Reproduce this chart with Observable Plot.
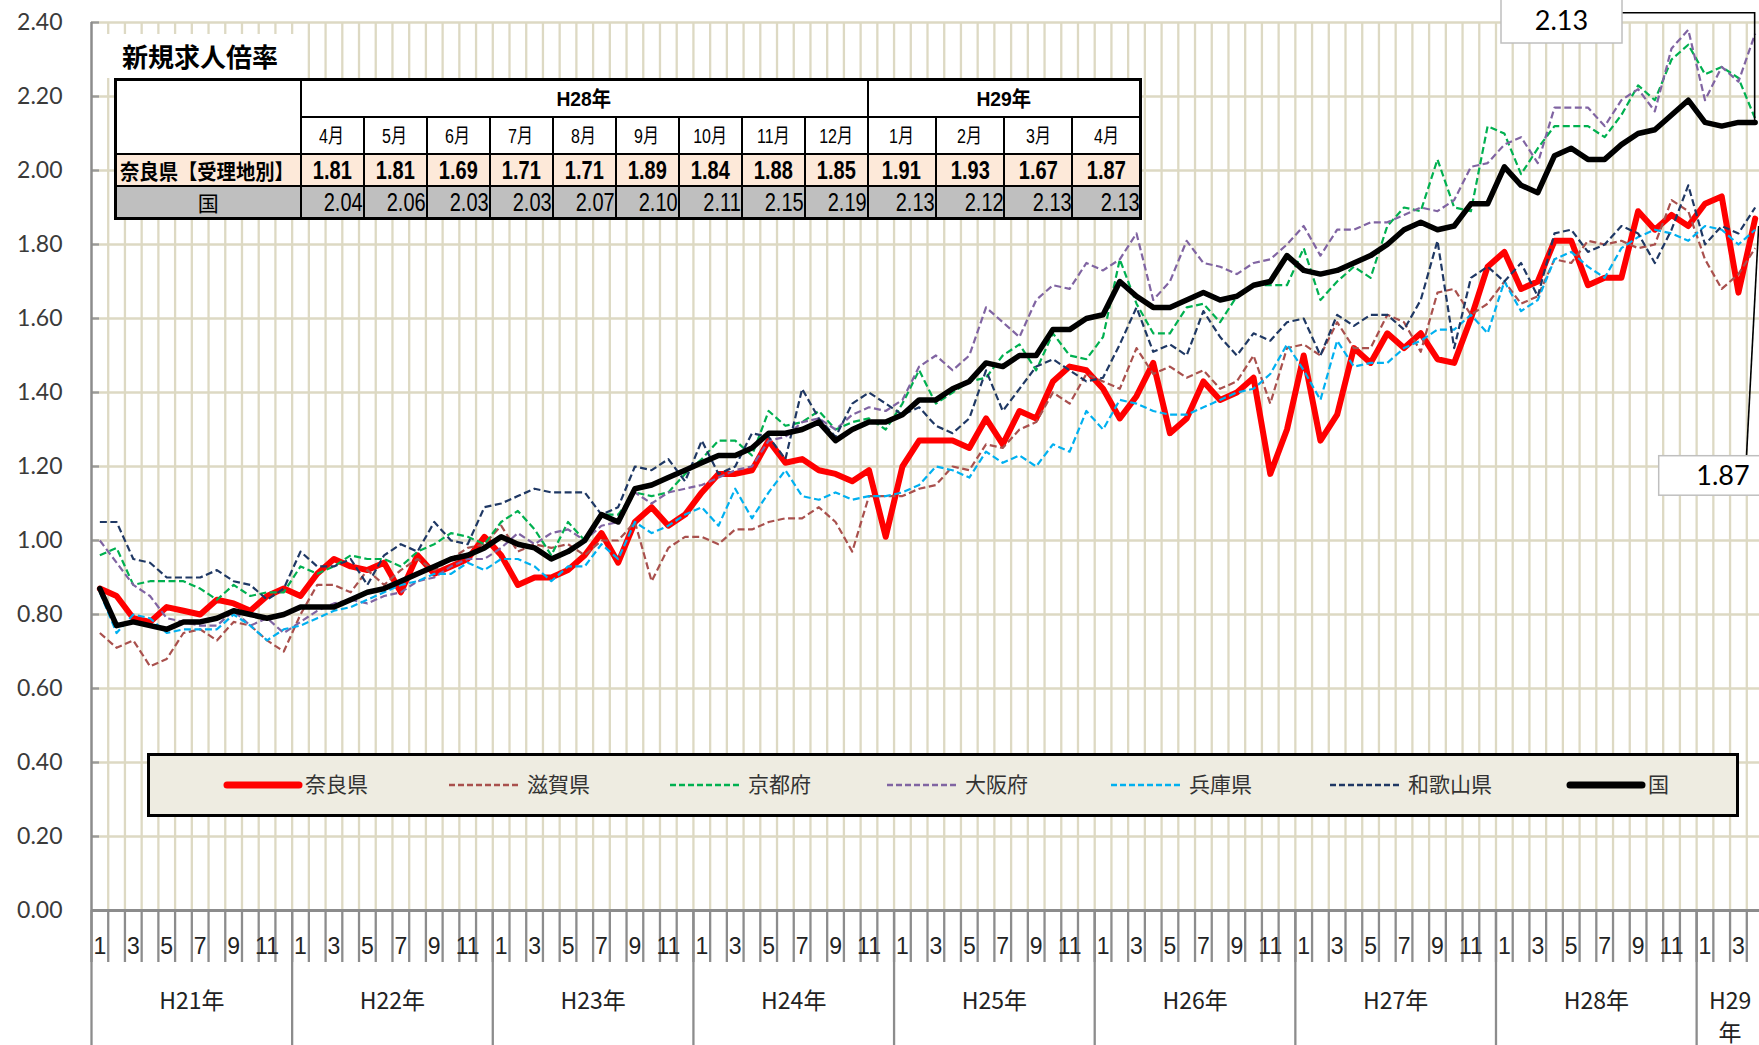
<!DOCTYPE html>
<html><head><meta charset="utf-8">
<script src="https://cdn.jsdelivr.net/npm/d3@7"></script>
<script src="https://cdn.jsdelivr.net/npm/@observablehq/plot@0.6"></script>
<style>
body{margin:0;background:#fff;}
#wrap{position:relative;width:1759px;height:1045px;overflow:hidden;background:#fff;}
#wrap svg{position:absolute;left:0;top:0;}
#title{position:absolute;left:100px;top:34px;width:198px;height:44px;background:#fff;font:bold 26px "Noto Sans CJK JP",sans-serif;line-height:44px;padding-left:22px;box-sizing:border-box;color:#000;}
#tbl{position:absolute;left:114px;top:78px;border-collapse:collapse;table-layout:fixed;border:3px solid #000;font-family:"Liberation Sans","Noto Sans CJK JP",sans-serif;color:#000;}
#tbl td{border:2px solid #000;padding:0;text-align:center;white-space:nowrap;background:#fff;line-height:1;overflow:hidden;}
#tbl tr.r1 td{height:35px;font-weight:bold;font-size:21px;}
#tbl tr.r2 td{height:35px;font-size:20px;}
#tbl tr.r3 td{height:30px;background:#fde9d9;font-weight:bold;font-size:25px;}
#tbl tr.r4 td{height:30px;background:#bfbfbf;font-size:25px;text-align:right;}
#tbl tr.r1 td.lab{background:#fff;}
#tbl tr.r3 td.lab{text-align:left;font-size:21px;font-family:"Noto Sans CJK JP",sans-serif;padding-left:3px;}
#tbl tr.r4 td.lab{text-align:center;font-size:21px;font-weight:normal;font-family:"Noto Sans CJK JP",sans-serif;}
.s{display:inline-block;transform:scaleX(.8);transform-origin:center center;}
#tbl tr.r4 .s{transform-origin:right center;}
#tbl tr.r3 td.lab .s{transform:scaleX(.92);transform-origin:left center;}
#tbl tr.r4 td.lab .s{transform:none;}
#tbl tr.r1 .s{transform:scaleX(.92);}
</style></head><body><div id="wrap"></div>
<script>
// ---- data (months H21/1 .. H29/4) ----
const monthIdx = d3.range(1, 101);
const nara = [0.87,0.85,0.79,0.78,0.82,0.81,0.80,0.84,0.83,0.81,0.85,0.87,0.85,0.91,0.95,0.93,0.92,0.94,0.86,0.96,0.91,0.93,0.95,1.01,0.96,
0.88,0.90,0.90,0.92,0.96,1.02,0.94,1.05,1.09,1.04,1.07,1.13,1.18,1.18,1.19,1.27,1.21,1.22,1.19,1.18,1.16,1.19,1.01,1.20,1.27,
1.27,1.27,1.25,1.33,1.26,1.35,1.33,1.43,1.47,1.46,1.41,1.33,1.39,1.48,1.29,1.33,1.43,1.38,1.40,1.44,1.18,1.30,1.50,1.27,1.34,
1.52,1.48,1.56,1.52,1.56,1.49,1.48,1.60,1.74,1.78,1.68,1.70,1.81,1.81,1.69,1.71,1.71,1.89,1.84,1.88,1.85,1.91,1.93,1.67,1.87];
const shiga = [0.75,0.71,0.73,0.66,0.68,0.75,0.76,0.73,0.78,0.77,0.73,0.70,0.80,0.88,0.88,0.86,0.92,0.88,0.92,0.95,0.92,0.95,0.98,0.99,1.04,
0.97,0.99,0.98,0.99,0.96,1.00,1.00,1.05,0.89,0.98,1.01,1.01,0.99,1.03,1.03,1.05,1.06,1.06,1.09,1.05,0.97,1.12,1.12,1.12,1.14,
1.15,1.20,1.19,1.26,1.25,1.30,1.32,1.40,1.37,1.45,1.43,1.41,1.52,1.45,1.47,1.44,1.46,1.41,1.43,1.50,1.37,1.52,1.53,1.50,1.59,
1.52,1.52,1.61,1.59,1.51,1.67,1.68,1.61,1.64,1.70,1.64,1.66,1.76,1.75,1.81,1.80,1.81,1.79,1.80,1.92,1.89,1.76,1.68,1.72,1.79];
const kyoto = [0.96,0.98,0.88,0.89,0.89,0.89,0.87,0.84,0.88,0.85,0.86,0.86,0.93,0.91,0.93,0.96,0.95,0.95,0.93,0.97,0.99,1.02,1.01,0.99,1.05,
1.08,1.03,0.96,1.05,1.00,1.07,1.07,1.13,1.12,1.13,1.18,1.22,1.27,1.27,1.23,1.35,1.31,1.32,1.35,1.30,1.32,1.33,1.30,1.37,1.46,
1.37,1.40,1.43,1.44,1.50,1.53,1.46,1.56,1.50,1.49,1.55,1.76,1.64,1.56,1.56,1.63,1.64,1.59,1.66,1.69,1.69,1.69,1.79,1.65,1.70,
1.74,1.71,1.85,1.90,1.89,2.03,1.90,1.89,2.12,2.10,1.99,2.06,2.12,2.12,2.12,2.09,2.15,2.23,2.19,2.30,2.34,2.26,2.28,2.25,2.14];
const osaka = [1.00,0.94,0.88,0.85,0.79,0.78,0.77,0.77,0.81,0.77,0.79,0.75,0.78,0.81,0.83,0.84,0.83,0.85,0.86,0.89,0.90,0.93,0.95,0.95,0.98,
1.02,0.99,1.02,1.03,1.00,1.04,1.05,1.13,1.10,1.13,1.14,1.15,1.17,1.19,1.20,1.27,1.28,1.32,1.33,1.30,1.34,1.36,1.35,1.38,1.47,
1.50,1.46,1.50,1.63,1.59,1.55,1.65,1.69,1.68,1.75,1.73,1.76,1.83,1.65,1.70,1.81,1.75,1.74,1.72,1.75,1.76,1.80,1.85,1.77,1.84,
1.84,1.86,1.86,1.88,1.90,1.89,1.92,2.01,2.02,2.07,2.09,2.02,2.17,2.17,2.17,2.12,2.19,2.22,2.16,2.33,2.38,2.19,2.28,2.24,2.37];
const hyogo = [0.86,0.75,0.80,0.79,0.75,0.76,0.76,0.76,0.80,0.77,0.73,0.76,0.77,0.79,0.81,0.82,0.84,0.86,0.88,0.89,0.91,0.91,0.94,0.92,0.95,
0.95,0.93,0.89,0.93,0.93,0.99,0.95,1.05,1.02,1.04,1.07,1.09,1.04,1.14,1.06,1.13,1.19,1.12,1.11,1.13,1.11,1.12,1.12,1.13,1.15,
1.20,1.19,1.17,1.24,1.21,1.23,1.20,1.26,1.24,1.35,1.30,1.38,1.37,1.35,1.34,1.34,1.36,1.38,1.40,1.41,1.45,1.53,1.46,1.38,1.54,
1.47,1.48,1.48,1.52,1.54,1.57,1.57,1.61,1.56,1.70,1.62,1.65,1.76,1.78,1.74,1.71,1.79,1.82,1.84,1.83,1.81,1.85,1.84,1.80,1.84];
const wakayama = [1.05,1.05,0.95,0.94,0.90,0.90,0.90,0.92,0.89,0.88,0.84,0.87,0.97,0.93,0.93,0.95,0.88,0.96,0.99,0.97,1.05,1.00,0.99,1.09,1.10,
1.12,1.14,1.13,1.13,1.13,1.07,1.09,1.20,1.19,1.22,1.16,1.27,1.18,1.20,1.29,1.28,1.22,1.41,1.33,1.28,1.37,1.40,1.37,1.34,1.36,
1.31,1.29,1.33,1.46,1.35,1.41,1.47,1.49,1.46,1.43,1.44,1.53,1.63,1.51,1.53,1.50,1.62,1.55,1.50,1.56,1.54,1.59,1.60,1.50,1.61,
1.58,1.61,1.61,1.57,1.65,1.81,1.52,1.71,1.74,1.70,1.75,1.66,1.83,1.84,1.78,1.80,1.85,1.83,1.75,1.84,1.96,1.80,1.85,1.83,1.90];
const kuni = [0.87,0.77,0.78,0.77,0.76,0.78,0.78,0.79,0.81,0.80,0.79,0.80,0.82,0.82,0.82,0.84,0.86,0.87,0.89,0.91,0.93,0.95,0.96,0.98,1.01,
0.99,0.98,0.95,0.97,1.00,1.07,1.05,1.14,1.15,1.17,1.19,1.21,1.23,1.23,1.25,1.29,1.29,1.30,1.32,1.27,1.30,1.32,1.32,1.34,1.38,
1.38,1.41,1.43,1.48,1.47,1.50,1.50,1.57,1.57,1.60,1.61,1.70,1.66,1.63,1.63,1.65,1.67,1.65,1.66,1.69,1.70,1.77,1.73,1.72,1.73,
1.75,1.77,1.80,1.84,1.86,1.84,1.85,1.91,1.91,2.01,1.96,1.94,2.04,2.06,2.03,2.03,2.07,2.10,2.11,2.15,2.19,2.13,2.12,2.13,2.13];

const seriesNames = ["奈良県","滋賀県","京都府","大阪府","兵庫県","和歌山県","国"];
const yTicks = [0,0.2,0.4,0.6,0.8,1.0,1.2,1.4,1.6,1.8,2.0,2.2,2.4];
const yearLabels = ["H21年","H22年","H23年","H24年","H25年","H26年","H27年","H28年","H29\n年"];
const monthTickLabels = ["1","3","5","7","9","11"];
const tableYears = ["H28年","H29年"];
const tableYearSpans = [9,4];
const tableMonths = ["4月","5月","6月","7月","8月","9月","10月","11月","12月","1月","2月","3月","4月"];
const tableRowLabels = ["奈良県【受理地別】","国"];
const titleText = "新規求人倍率";

// ---- styles ----
const seriesDefs = [
  {name: seriesNames[0], values: nara,     stroke: "#ff0000", width: 6, dash: null},
  {name: seriesNames[1], values: shiga,    stroke: "#a9504d", width: 2.2, dash: "7,3.5"},
  {name: seriesNames[2], values: kyoto,    stroke: "#00b050", width: 2.2, dash: "7,3.5"},
  {name: seriesNames[3], values: osaka,    stroke: "#8064a2", width: 2.2, dash: "7,3.5"},
  {name: seriesNames[4], values: hyogo,    stroke: "#00b0f0", width: 2.2, dash: "7,3.5"},
  {name: seriesNames[5], values: wakayama, stroke: "#1f3864", width: 2.2, dash: "7,3.5"},
  {name: seriesNames[6], values: kuni,     stroke: "#000000", width: 5.5, dash: null}
];

const grid = "#ddd9c3";
const axisGray = "#8c8c8c";
const bounds = d3.range(0, 101).map(k => k + 0.5);
const yearBounds = d3.range(0, 9).map(k => k * 12 + 0.5);
const oddMonths = monthIdx.filter(m => ((m - 1) % 12) % 2 === 0);
const yearCenters = d3.range(0, 9).map(k => k < 8 ? k * 12 + 6.5 : 98.5);
const yearMap = new Map(yearCenters.map((c, i) => [c, yearLabels[i]]));

const lineMarks = seriesDefs.map(s => Plot.line(monthIdx, {
  x: d => d, y: (d, i) => s.values[i],
  stroke: s.stroke, strokeWidth: s.width,
  strokeDasharray: s.dash || undefined,
  strokeLinejoin: "round", strokeLinecap: s.dash ? "butt" : "round"
}));

const chart = Plot.plot({
  width: 1759, height: 1045,
  marginLeft: 91, marginRight: 0, marginTop: 22, marginBottom: 135,
  x: {domain: [0.5, 100.26], label: null},
  y: {domain: [0, 2.4], label: null},
  style: {background: "#fff", fontFamily: "Lato, sans-serif", overflow: "visible"},
  marks: [
    Plot.ruleX(bounds.slice(1), {stroke: grid, strokeWidth: 2.3}),
    Plot.ruleY(yTicks.slice(1), {stroke: grid, strokeWidth: 2.3}),
    Plot.ruleY(yTicks.slice(1), {x1: 0.5, x2: 0.98, stroke: "#9a9a9a", strokeWidth: 2.3}),
    ...lineMarks,
    Plot.ruleX([0.5], {stroke: axisGray, strokeWidth: 2.5}),
    Plot.ruleY([0], {stroke: axisGray, strokeWidth: 3}),
    Plot.axisY({ticks: yTicks, tickFormat: d => d.toFixed(2), tickSize: 0, tickPadding: 29,
      fontSize: 23, fill: "#3a3a3a", label: null, fontFamily: "Lato, sans-serif"}),
    Plot.axisX({ticks: bounds, tickSize: 52, fill: "none", stroke: axisGray, strokeWidth: 2.3, label: null}),
    Plot.axisX({ticks: yearBounds, tickSize: 136, fill: "none", stroke: axisGray, strokeWidth: 2.3, label: null}),
    Plot.axisX({ticks: oddMonths, tickSize: 0, tickPadding: 27,
      tickFormat: d => monthTickLabels[((d - 1) % 12) / 2],
      fontSize: 23, fill: "#222", label: null, fontFamily: "'Liberation Sans Narrow','Liberation Sans',sans-serif"}),
    Plot.axisX({ticks: yearCenters, tickSize: 0, tickPadding: 75,
      tickFormat: d => yearMap.get(d), lineHeight: 1.42,
      fontSize: 23, fill: "#222", label: null, fontFamily: "'Liberation Sans Narrow','Noto Sans CJK JP',sans-serif"})
  ]
});

const wrap = document.getElementById("wrap");
wrap.appendChild(chart);

// ---- legend (inside svg) ----
const svg = d3.select(chart);
const leg = svg.append("g").attr("text-anchor", "start");
leg.append("rect").attr("x", 148.5).attr("y", 754.5).attr("width", 1589).attr("height", 61)
  .attr("fill", "#eeece1").attr("stroke", "#000").attr("stroke-width", 3);
const legStarts = [227, 449, 670, 887, 1111, 1330, 1570];
seriesDefs.forEach((s, i) => {
  const x0 = legStarts[i];
  leg.append("line").attr("x1", x0).attr("x2", x0 + 72).attr("y1", 785).attr("y2", 785)
    .attr("stroke", s.stroke).attr("stroke-width", s.dash ? 2.6 : 7)
    .attr("stroke-dasharray", s.dash ? "6,3" : null)
    .attr("stroke-linecap", s.dash ? "butt" : "round");
  leg.append("text").attr("x", x0 + 78).attr("y", 785).attr("dy", "0.35em")
    .attr("text-anchor", "start")
    .attr("font-family", "'Noto Sans CJK JP',sans-serif").attr("font-size", 21).attr("fill", "#333")
    .text(s.name);
});

// ---- callouts for last values ----
const sx = chart.scale("x"), sy = chart.scale("y");
const px = sx.apply(100);
const pyK = sy.apply(kuni[99]);
const pyN = sy.apply(nara[99]);
const ann = svg.append("g");
ann.append("path").attr("d", `M1622,12.7H${px}V${pyK}`).attr("fill", "none").attr("stroke", "#000").attr("stroke-width", 1.6);
ann.append("path").attr("d", `M1746.5,456L${px + 4},${pyN + 8}`).attr("fill", "none").attr("stroke", "#000").attr("stroke-width", 1.6);
ann.append("rect").attr("x", 1501).attr("y", -3).attr("width", 121).attr("height", 46)
  .attr("fill", "#fff").attr("stroke", "#bfbfbf").attr("stroke-width", 1.5);
ann.append("text").attr("x", 1561.5).attr("y", 21).attr("dy", "0.35em").attr("text-anchor", "middle")
  .attr("font-family", "Lato, sans-serif").attr("font-size", 27).attr("fill", "#000").text(kuni[99].toFixed(2));
ann.append("rect").attr("x", 1658.7).attr("y", 455.7).attr("width", 128).attr("height", 39.5)
  .attr("fill", "#fff").attr("stroke", "#bfbfbf").attr("stroke-width", 1.5);
ann.append("text").attr("x", 1723).attr("y", 476).attr("dy", "0.35em").attr("text-anchor", "middle")
  .attr("font-family", "Lato, sans-serif").attr("font-size", 27).attr("fill", "#000").text(nara[99].toFixed(2));

// ---- title & table overlay ----
const title = document.createElement("div");
title.id = "title"; title.textContent = titleText;
wrap.appendChild(title);

const naraTable = nara.slice(-13), kuniTable = kuni.slice(-13);
const colW = [185].concat(d3.range(9).map(() => 63), d3.range(4).map(() => 68.3));
let html = "<colgroup>" + colW.map(w => `<col style="width:${w}px">`).join("") + "</colgroup>";
html += `<tr class="r1"><td class="lab" rowspan="2"></td>` +
  tableYears.map((y, i) => `<td colspan="${tableYearSpans[i]}"><span class="s">${y}</span></td>`).join("") + "</tr>";
html += `<tr class="r2">` + tableMonths.map(m => `<td><span class="s">${m}</span></td>`).join("") + "</tr>";
html += `<tr class="r3"><td class="lab"><span class="s">${tableRowLabels[0]}</span></td>` +
  naraTable.map(v => `<td><span class="s">${v.toFixed(2)}</span></td>`).join("") + "</tr>";
html += `<tr class="r4"><td class="lab"><span class="s">${tableRowLabels[1]}</span></td>` +
  kuniTable.map(v => `<td><span class="s">${v.toFixed(2)}</span></td>`).join("") + "</tr>";
const tbl = document.createElement("table");
tbl.id = "tbl"; tbl.innerHTML = html;
tbl.style.width = d3.sum(colW) + "px";
wrap.appendChild(tbl);
</script></body></html>
